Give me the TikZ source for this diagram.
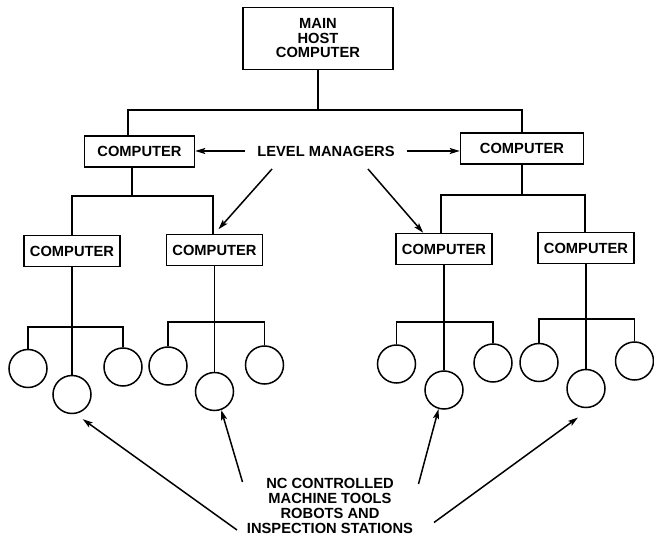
\documentclass[tikz,border=0pt]{standalone}
\usepackage{fontspec}
\setmainfont{Liberation Sans}
\usepackage{tikz}
\usetikzlibrary{arrows.meta}

\begin{document}
\begin{tikzpicture}[x=1pt,y=-1pt,>={Stealth[length=10pt,width=6pt,inset=2pt]},line width=1.5pt,
	comp/.style={draw,rectangle,inner sep=0pt,minimum width=96pt,minimum height=31pt,font=\fontsize{14.7}{14.5}\selectfont\bfseries},
	station/.style={draw,circle,inner sep=0pt,minimum size=38pt},
	lbl/.style={font=\fontsize{14.7}{15}\selectfont\bfseries,align=center,inner sep=4pt}]
		\useasboundingbox (0,0) rectangle (654,537);

		\node[comp,minimum width=150pt,minimum height=62pt,align=center] (host) at (318,38.5) {MAIN\\HOST\\COMPUTER};
		\node[comp,minimum width=110pt] (L1) at (139.5,151.5) {COMPUTER};
		\node[comp,minimum width=123pt] (R1) at (522,148.5) {COMPUTER};
		\node[comp] (L2a) at (72,251) {COMPUTER};
		\node[comp] (L2b) at (214.5,250) {COMPUTER};
		\node[comp] (R2a) at (444,249) {COMPUTER};
		\node[comp] (R2b) at (586,248) {COMPUTER};

		\node[station] (a1) at (28,368.5) {};
		\node[station] (a2) at (72,394.5) {};
		\node[station] (a3) at (123,367) {};
		\node[station] (b1) at (168,366) {};
		\node[station] (b2) at (214.5,391.5) {};
		\node[station] (b3) at (264.5,365) {};
		\node[station] (c1) at (396.5,364) {};
		\node[station] (c2) at (444,390) {};
		\node[station] (c3) at (493,363) {};
		\node[station] (d1) at (539,362.5) {};
		\node[station] (d2) at (586,388.5) {};
		\node[station] (d3) at (634.5,361) {};

		\node[lbl] (lm) at (326,151) {LEVEL MANAGERS};
		\node[lbl] (nc) at (330,506) {NC CONTROLLED\\MACHINE TOOLS\\ROBOTS AND\\INSPECTION STATIONS};

		\coordinate (busL) at (128,110);
		\coordinate (busR) at (522,110);
		\coordinate (jL1) at (132,196);
		\coordinate (bL1a) at (72,196);
		\coordinate (bL1b) at (213,196);
		\coordinate (bR1a) at (441,195);
		\coordinate (bR1b) at (585,195);
		\coordinate (ya) at (72,327);
		\coordinate (yb) at (214.5,322);
		\coordinate (yc) at (444,322);
		\coordinate (yd) at (586,319);

		\draw (host.south) -- (host.south |- busL);
		\draw (busL |- L1.north) -- (busL) -- (busR) -- (R1.north);
		\draw (jL1 |- L1.south) -- (jL1);
		\draw (bL1a |- L2a.north) -- (bL1a) -- (bL1b) -- (bL1b |- L2b.north);
		\draw (R1.south) -- (R1.south |- bR1a);
		\draw (bR1a |- R2a.north) -- (bR1a) -- (bR1b) -- (bR1b |- R2b.north);

		\draw (L2a.south) -- (a2.north);
		\draw (a1.north) -- (a1 |- ya) -- (a3 |- ya) -- (a3.north);
		\draw (L2b.south) -- (b2.north);
		\draw (b1.north) -- (b1 |- yb) -- (b3 |- yb) -- (b3.north);
		\draw (R2a.south) -- (c2.north);
		\draw (c1.north) -- (c1 |- yc) -- (c3 |- yc) -- (c3.north);
		\draw (R2b.south) -- (d2.north);
		\draw (d1.north) -- (d1 |- yd) -- (d3 |- yd) -- (d3.north);

		\coordinate (lmL) at (272,169);
		\coordinate (lmR) at (368,169);
		\coordinate (ncA) at (237,530);
		\coordinate (ncB) at (242.5,482);
		\coordinate (ncC) at (418.5,484);
		\coordinate (ncD) at (434,522.5);
		\coordinate (tD) at (578,417.5);

		\path[->]
		(lm.west) edge [shorten <=8pt] (lm.west -| L1.east)
		(lm.east) edge [shorten <=8pt] (lm.east -| R1.west)
		(lmL) edge [shorten >=6pt] (L2b.north)
		(lmR) edge (R2a.142)
		(ncA) edge [shorten >=9pt] (a2.-80)
		(ncB) edge (b2.-70)
		(ncC) edge (c2.-106)
		(ncD) edge (tD)
		;
	\end{tikzpicture}
\end{document}
